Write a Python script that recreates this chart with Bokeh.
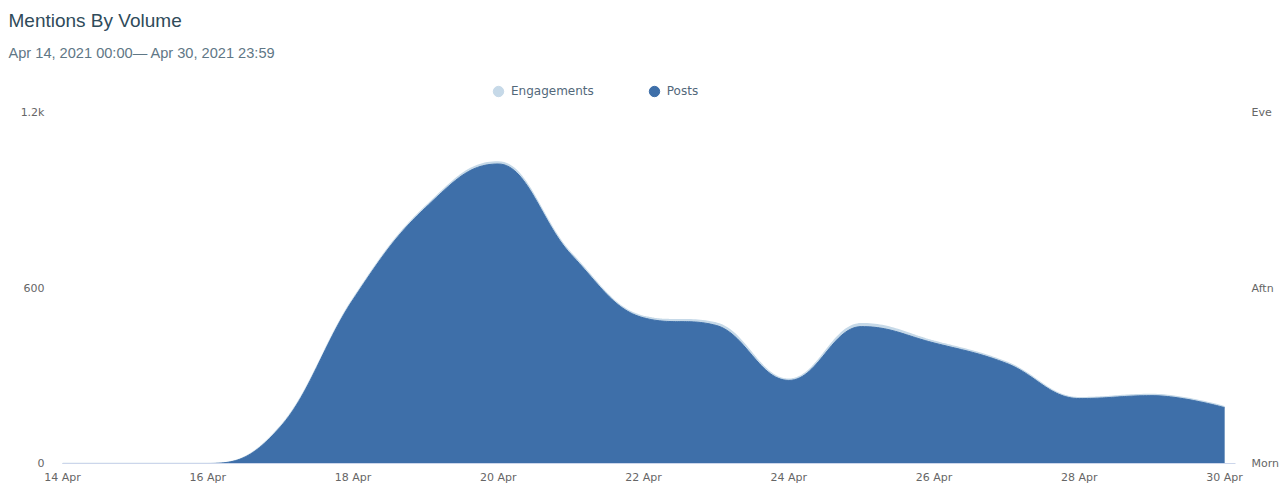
import numpy as np
from bokeh.plotting import figure
from bokeh.models import (Range1d, LinearAxis, FixedTicker, Legend,
                          LegendItem, Title)
from bokeh.embed import file_html
from bokeh.resources import INLINE

# ---------------- data ----------------
days = [14, 15, 16, 17, 18, 19, 20, 21, 22, 23, 24, 25, 26, 27, 28, 29, 30]
posts = [0, 0, 0, 125, 560, 875, 1024, 715, 498, 472, 284, 468, 412, 342, 222, 232, 191]
engagements = [0, 0, 0, 127, 563, 879, 1031, 720, 503, 480, 288, 478, 418, 346, 225, 236, 194]
tick_days = [14, 16, 18, 20, 22, 24, 26, 28, 30]
tick_labels = ["14 Apr", "16 Apr", "18 Apr", "20 Apr", "22 Apr", "24 Apr",
               "26 Apr", "28 Apr", "30 Apr"]
left_ticks = [0, 600, 1200]
left_labels = ["0", "600", "1.2k"]
right_ticks = [0, 1, 2]
right_labels = ["Morn", "Aftn", "Eve"]

title_text = "Mentions By Volume"
subtitle_text = "Apr 14, 2021 00:00\u2014 Apr 30, 2021 23:59"

POSTS_COLOR = "#3e6fa9"
ENG_COLOR = "#c6d9e8"
AXIS_FONT = "DejaVu Sans"


def spline_render(xs, ys, smoothing=1.5, steps=30):
    """Highcharts-style spline through the data points (rendering only)."""
    n = len(xs)
    lc = [None] * n
    rc = [None] * n
    for i in range(n):
        x, y = xs[i], ys[i]
        if 0 < i < n - 1:
            px, py = xs[i - 1], ys[i - 1]
            nx, ny = xs[i + 1], ys[i + 1]
            d = smoothing + 1
            lcx = (smoothing * x + px) / d
            lcy = (smoothing * y + py) / d
            rcx = (smoothing * x + nx) / d
            rcy = (smoothing * y + ny) / d
            if rcx != lcx:
                corr = ((rcy - lcy) * (rcx - x)) / (rcx - lcx) + y - rcy
                lcy += corr
                rcy += corr
                if lcy > py and lcy > y:
                    lcy = max(py, y); rcy = 2 * y - lcy
                elif lcy < py and lcy < y:
                    lcy = min(py, y); rcy = 2 * y - lcy
                if rcy > ny and rcy > y:
                    rcy = max(ny, y); lcy = 2 * y - rcy
                elif rcy < ny and rcy < y:
                    rcy = min(ny, y); lcy = 2 * y - rcy
            lc[i] = (lcx, lcy)
            rc[i] = (rcx, rcy)
        else:
            lc[i] = (x, y)
            rc[i] = (x, y)
    out_x = [xs[0]]
    out_y = [ys[0]]
    t = np.linspace(0, 1, steps + 1)[1:]
    for i in range(1, n):
        p0 = (xs[i - 1], ys[i - 1])
        p1 = rc[i - 1]
        p2 = lc[i]
        p3 = (xs[i], ys[i])
        bx = ((1 - t) ** 3) * p0[0] + 3 * ((1 - t) ** 2) * t * p1[0] + 3 * (1 - t) * t ** 2 * p2[0] + t ** 3 * p3[0]
        by = ((1 - t) ** 3) * p0[1] + 3 * ((1 - t) ** 2) * t * p1[1] + 3 * (1 - t) * t ** 2 * p2[1] + t ** 3 * p3[1]
        out_x.extend(bx.tolist())
        out_y.extend(by.tolist())
    return out_x, out_y


# ---------------- layout (pixels) ----------------
W, H = 1285, 486
FRAME_L, FRAME_R = 62, 1235
FRAME_T, FRAME_B = 70, 463     # frame extends above the 1.2k line to host the legend
Y_TOP_PX = 112                 # pixel row of the 1.2k gridline
y_end = 1200 * (FRAME_B - FRAME_T) / (FRAME_B - Y_TOP_PX)

p = figure(width=W, height=H, output_backend="svg", toolbar_location=None,
           title=None,
           x_range=Range1d(14, 30.15), y_range=Range1d(0, y_end),
           min_border_left=FRAME_L, min_border_right=W - FRAME_R,
           min_border_top=FRAME_T, min_border_bottom=H - FRAME_B)
p.outline_line_color = None
p.xgrid.visible = False
p.ygrid.visible = False

ex, ey = spline_render(days, engagements)
px_, py_ = spline_render(days, posts)
p.varea(x=ex, y1=0, y2=ey, fill_color=ENG_COLOR)
p.line(ex, ey, line_color=ENG_COLOR, line_width=1.5)
p.varea(x=px_, y1=0, y2=py_, fill_color=POSTS_COLOR)
p.line(px_, py_, line_color=POSTS_COLOR, line_width=1)

# bottom axis
xa = p.xaxis[0]
xa.ticker = FixedTicker(ticks=tick_days)
xa.major_label_overrides = {d: l for d, l in zip(tick_days, tick_labels)}
xa.axis_line_color = "#ccd6eb"
xa.major_tick_line_color = None
xa.minor_tick_line_color = None
xa.major_tick_out = 0
xa.major_label_standoff = 7
xa.major_label_text_font = AXIS_FONT
xa.major_label_text_font_size = "11px"
xa.major_label_text_color = "#666666"

# left axis
ya = p.yaxis[0]
ya.ticker = FixedTicker(ticks=left_ticks)
ya.major_label_overrides = {t: l for t, l in zip(left_ticks, left_labels)}
ya.axis_line_color = None
ya.major_tick_line_color = None
ya.minor_tick_line_color = None
ya.major_tick_out = 0
ya.major_label_standoff = 18
ya.major_label_text_font = AXIS_FONT
ya.major_label_text_font_size = "11px"
ya.major_label_text_color = "#666666"

# right axis (time of day)
p.extra_y_ranges = {"tod": Range1d(0, 2 * y_end / 1200)}
ra = LinearAxis(y_range_name="tod")
ra.ticker = FixedTicker(ticks=right_ticks)
ra.major_label_overrides = {t: l for t, l in zip(right_ticks, right_labels)}
ra.axis_line_color = None
ra.major_tick_line_color = None
ra.minor_tick_line_color = None
ra.major_tick_out = 0
ra.major_label_standoff = 16
ra.major_label_text_font = AXIS_FONT
ra.major_label_text_font_size = "11px"
ra.major_label_text_color = "#666666"
p.add_layout(ra, "right")

# titles (first added sits closest to the frame)
p.add_layout(Title(text=subtitle_text, align="left", offset=8 - FRAME_L,
                   standoff=20,
                   text_font="Liberation Sans", text_font_size="14.6px",
                   text_font_style="normal", text_color="#5f7786"), "above")
p.add_layout(Title(text=title_text, align="left", offset=8 - FRAME_L,
                   standoff=4,
                   text_font="Liberation Sans", text_font_size="19px",
                   text_font_style="normal", text_color="#2f4b5a"), "above")

# legend
nan = float("nan")
r_e = p.scatter([nan], [nan], marker="circle", fill_color=ENG_COLOR, line_color=ENG_COLOR)
r_p = p.scatter([nan], [nan], marker="circle", fill_color=POSTS_COLOR, line_color=POSTS_COLOR)
legend = Legend(items=[LegendItem(label="Engagements", renderers=[r_e]),
                       LegendItem(label="Posts", renderers=[r_p])],
                orientation="horizontal",
                location=(485 - FRAME_L, FRAME_B - 106),
                glyph_width=26, glyph_height=30, label_standoff=0,
                spacing=47, padding=0, margin=0,
                border_line_alpha=0, background_fill_alpha=0,
                label_text_font=AXIS_FONT, label_text_font_size="12px",
                label_text_color="#52687a")
p.add_layout(legend, "center")

open("out.html", "w").write(file_html(p, INLINE))
